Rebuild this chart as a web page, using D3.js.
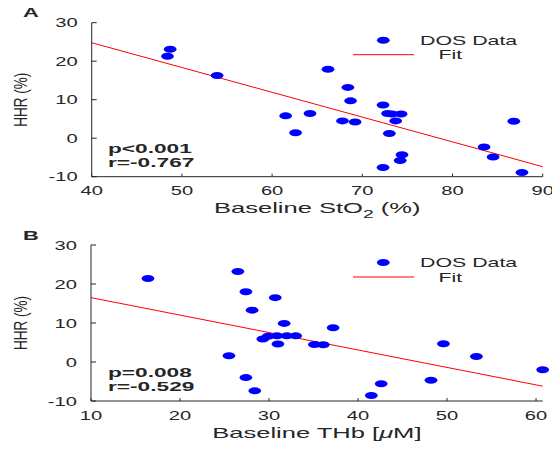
<!DOCTYPE html>
<html>
<head>
<meta charset="utf-8">
<script src="https://cdn.jsdelivr.net/npm/d3@7"></script>
<style>
  body { margin: 0; background: #fff; }
  text { font-family: "Liberation Sans", Arial, sans-serif; fill: #262626; }
</style>
</head>
<body>
<div id="chart"></div>
<script>
// Panel A: baseline StO2 (%) vs HHR (%)
const stoX = [48.7, 48.4, 53.9, 61.5, 62.6, 64.2, 66.2, 67.8, 68.4, 68.7, 69.2, 72.3, 72.3, 72.8, 73.3, 73.0, 73.7, 74.3, 74.2, 74.4, 83.5, 84.5, 86.8, 87.7];
const stoY = [23.1, 21.3, 16.3, 5.8, 1.4, 6.4, 17.9, 4.5, 13.2, 9.7, 4.2, 8.6, -7.6, 6.4, 6.3, 1.2, 4.5, 6.3, -5.8, -4.3, -2.3, -4.9, 4.4, -8.9];
const fitA = [[40, 24.8], [90, -7.4]];

// Panel B: baseline THb (uM) vs HHR (%)
const thbX = [16.4, 26.5, 27.4, 28.1, 25.5, 27.4, 28.4, 29.3, 29.9, 30.7, 31.0, 30.9, 31.7, 32.0, 33.0, 35.1, 36.1, 37.2, 41.5, 42.6, 48.2, 49.6, 53.3, 60.75];
const thbY = [21.4, 23.2, 18.0, 13.3, 1.6, -4.0, -7.4, 5.9, 6.6, 16.5, 4.6, 6.7, 9.9, 6.7, 6.7, 4.5, 4.4, 8.8, -8.6, -5.6, -4.7, 4.7, 1.4, -2.0];
const fitB = [[10, 16.5], [60.75, -6.2]];

const yTicks = [-10, 0, 10, 20, 30];
const xTicksA = [40, 50, 60, 70, 80, 90];
const xTicksB = [10, 20, 30, 40, 50, 60];

const W = 552, H = 451;
const SX = 1.68; // horizontal stretch of the original figure

const svg = d3.select("#chart").append("svg")
    .attr("width", W)
    .attr("height", H);

// text helper, draws stretched text like the reference
function txt(g, x, y, s, size, anchor, weight) {
    return g.append("text")
        .attr("transform", "translate(" + x + "," + y + ") scale(" + SX + ",1)")
        .attr("text-anchor", anchor || "start")
        .attr("font-size", size)
        .attr("font-weight", weight || "normal")
        .text(s);
}

function panel(opt) {
    const g = svg.append("g");
    const x = d3.scaleLinear().domain(opt.xDomain).range([opt.left, opt.right]);
    const y = d3.scaleLinear().domain([-10, 30]).range([opt.bottom, opt.top]);

    // fit line
    g.append("line")
        .attr("x1", x(opt.fit[0][0])).attr("y1", y(opt.fit[0][1]))
        .attr("x2", x(opt.fit[1][0])).attr("y2", y(opt.fit[1][1]))
        .attr("stroke", "#ff0000").attr("stroke-width", 1);

    // points
    g.selectAll("ellipse.pt")
        .data(opt.xs.map((v, i) => [v, opt.ys[i]]))
        .enter().append("ellipse")
        .attr("class", "pt")
        .attr("cx", d => x(d[0]))
        .attr("cy", d => y(d[1]))
        .attr("rx", 6.4).attr("ry", 3.5)
        .attr("fill", "#0000ff");

    // axes
    const axisCol = "#262626";
    g.append("line")
        .attr("x1", opt.left).attr("x2", opt.left)
        .attr("y1", opt.top).attr("y2", opt.bottom)
        .attr("stroke", axisCol);
    g.append("line")
        .attr("x1", opt.left).attr("x2", opt.right)
        .attr("y1", opt.bottom).attr("y2", opt.bottom)
        .attr("stroke", axisCol);

    yTicks.forEach(t => {
        g.append("line")
            .attr("x1", opt.left).attr("x2", opt.left + 5)
            .attr("y1", y(t)).attr("y2", y(t))
            .attr("stroke", axisCol);
        txt(g, opt.left - 14, y(t) + 4.5, (t < 0 ? "-" + (-t) : t), 12, "end");
    });
    opt.xTicks.forEach(t => {
        g.append("line")
            .attr("x1", x(t)).attr("x2", x(t))
            .attr("y1", opt.bottom).attr("y2", opt.bottom - 3)
            .attr("stroke", axisCol);
        txt(g, x(t), opt.bottom + 18.5, t, 12, "middle");
    });

    // y label
    g.append("text")
        .attr("transform", "translate(27," + (opt.top + opt.bottom) / 2 + ") scale(1.35,1) rotate(-90)")
        .attr("text-anchor", "middle")
        .attr("font-size", 13.5)
        .text("HHR (%)");

    // x label
    const xl = txt(g, (opt.left + opt.right) / 2, opt.bottom + 36.5, "", 15.2, "middle");
    opt.xLabel(xl);

    // panel letter
    txt(g, 23, opt.top - 5.5, opt.letter, 13, "start", "bold").attr("fill", "#000");

    // stats
    txt(g, 108, opt.bottom - 24, opt.stats[0], 13.5, "start", "bold").attr("fill", "#000");
    txt(g, 108, opt.bottom - 10, opt.stats[1], 13.5, "start", "bold").attr("fill", "#000");

    // legend
    g.append("ellipse")
        .attr("cx", 383.3).attr("cy", opt.top + 17.5)
        .attr("rx", 6.4).attr("ry", 3.5)
        .attr("fill", "#0000ff");
    txt(g, 420, opt.top + 22, "DOS Data", 12.7);
    g.append("line")
        .attr("x1", 353).attr("x2", 414)
        .attr("y1", opt.top + 32).attr("y2", opt.top + 32)
        .attr("stroke", "#ff0000");
    txt(g, 438.5, opt.top + 36.5, "Fit", 12.7);
}

panel({
    xs: stoX, ys: stoY, fit: fitA, xDomain: [40, 90], xTicks: xTicksA,
    left: 91.7, right: 542.7, top: 22.7, bottom: 176.7, letter: "A",
    stats: ["p<0.001", "r=-0.767"],
    xLabel: t => {
        t.append("tspan").text("Baseline StO");
        t.append("tspan").attr("font-size", 11.5).attr("dy", 5).text("2");
        t.append("tspan").attr("dy", -5).text(" (%)");
    }
});

panel({
    xs: thbX, ys: thbY, fit: fitB, xDomain: [10, 60.75], xTicks: xTicksB,
    left: 91, right: 542.7, top: 245, bottom: 401, letter: "B",
    stats: ["p=0.008", "r=-0.529"],
    xLabel: t => {
        t.append("tspan").text("Baseline THb [");
        t.append("tspan").attr("font-style", "italic").text("\u03bc");
        t.append("tspan").text("M]");
    }
});
</script>
</body>
</html>
